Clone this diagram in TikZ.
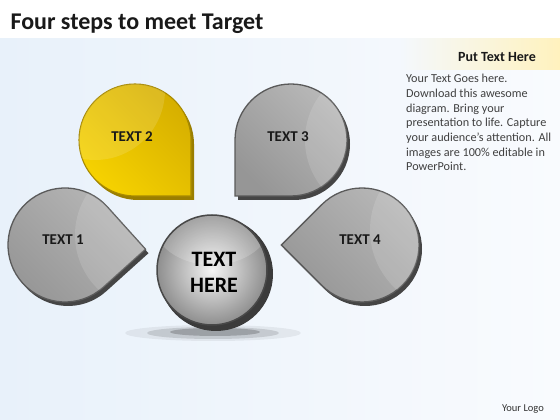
\documentclass[tikz,border=0pt]{standalone}
\usepackage{fontspec}
\setmainfont{Carlito}
\usetikzlibrary{calc}
\definecolor{bgL}{HTML}{E8F1FA}
\definecolor{bgR}{HTML}{F9FBFE}
\definecolor{panelY}{HTML}{FFF2BE}
\definecolor{rimG}{HTML}{454545}
\definecolor{edgeG}{HTML}{5A5A5A}
\definecolor{faceL}{HTML}{B8B8B8}
\definecolor{faceD}{HTML}{969696}
\definecolor{yelL}{HTML}{D6AF00}
\definecolor{yelD}{HTML}{F6D200}
\definecolor{rimY}{HTML}{9A7E00}
\definecolor{edgeY}{HTML}{A88A00}
\definecolor{bodyT}{HTML}{404040}
\newcommand\droppath[4]{($(#1,#2)+(#4+45:#3)$) arc[start angle=#4+45, end angle=#4+315, radius=#3] -- ($(#1,#2)+(#4:{#3*1.4142})$) -- cycle}
\tikzset{
  rimgray/.style={fill=rimG},
  rimyel/.style={fill=rimY},
  facegray/.style={left color=faceD, right color=faceL, shading angle=135, draw=edgeG, line width=1.3pt},
  faceyel/.style={left color=yelL, right color=yelD, shading angle=-45, draw=edgeY, line width=1.1pt},
  gloss/.style={fill=white, opacity=0.13},
  lbl/.style={font=\fontsize{15}{17}\selectfont\bfseries, text=black!90},
}
\begin{document}
\begin{tikzpicture}[x=1pt,y=1pt]
\useasboundingbox (0,0) rectangle (560,420);
\fill[white] (0,0) rectangle (560,420);
\shade[left color=bgL, right color=bgR] (0,0) rectangle (560,381);
\shade[left color=bgL!29!bgR, right color=panelY] (400,350) rectangle (560,381);

% title and side panel
\node[anchor=base west, font=\fontsize{24}{28}\selectfont\bfseries, text=black!90] (title) at (7,390) {Four steps to meet Target};
\node[anchor=base, font=\fontsize{14}{16}\selectfont\bfseries, text=black!90] (ph) at (497,358) {Put Text Here};
\node[anchor=north west, inner sep=0pt, align=left, text=bodyT,
      font=\fontsize{12.2}{14.7}\selectfont] (body) at (406,346)
  {Your Text Goes here.\\Download this awesome\\diagram. Bring your\\presentation to life. Capture\\your audience’s attention. All\\images are 100\% editable in\\PowerPoint.};
\node[anchor=base, font=\fontsize{10.5}{12}\selectfont, text=black!80] (logo) at (523,8) {Your Logo};

% TEXT 2 (yellow)
\fill[rimyel] \droppath{138}{276}{56}{-45};
\shade[faceyel] \droppath{135}{280}{56}{-45};
\begin{scope}\clip \droppath{135}{280}{56}{-45};
  \fill[gloss] (95,330) circle (70);
\end{scope}
% TEXT 3
\fill[rimgray] \droppath{294}{276}{56}{-135};
\shade[facegray] \droppath{291}{280}{56}{-135};
\begin{scope}\clip \droppath{291}{280}{56}{-135};
  \fill[gloss] (380,280) circle (75);
\end{scope}
% TEXT 1
\fill[rimgray] \droppath{68}{171}{57}{-3};
\shade[facegray] \droppath{65}{175}{57}{-3};
\begin{scope}\clip \droppath{65}{175}{57}{-3};
  \fill[gloss] (150,185) circle (75);
\end{scope}
% TEXT 4
\fill[rimgray] \droppath{365}{171}{57}{180};
\shade[facegray] \droppath{362}{175}{57}{180};
\begin{scope}\clip \droppath{362}{175}{57}{180};
  \fill[gloss] (450,190) circle (80);
\end{scope}

% centre circle with shadow
\fill[black, opacity=0.06] (213,87) ellipse (88 and 8);
\fill[black, opacity=0.12] (213,87) ellipse (66 and 6);
\fill[black, opacity=0.20] (215,88) ellipse (45 and 4);
\fill[rimG!85!black] (216,146) circle (57);
\shade[inner color=white!92!gray, outer color=faceD!95!black, draw=edgeG!80!black, line width=1.5pt] (212,150) circle (55);
\begin{scope}\clip (212,150) circle (54);
  \fill[white, opacity=0.18] (212,200) ellipse (60 and 45);
\end{scope}

% labels
\node[lbl] (t2) at (132,283) {TEXT 2};
\node[lbl] (t3) at (288,283) {TEXT 3};
\node[lbl] (t1) at (63,180) {TEXT 1};
\node[lbl] (t4) at (360,180) {TEXT 4};
\node[align=center, font=\fontsize{22}{26}\selectfont\bfseries, text=black] (c) at (214,148) {TEXT\\HERE};
\end{tikzpicture}
\end{document}
